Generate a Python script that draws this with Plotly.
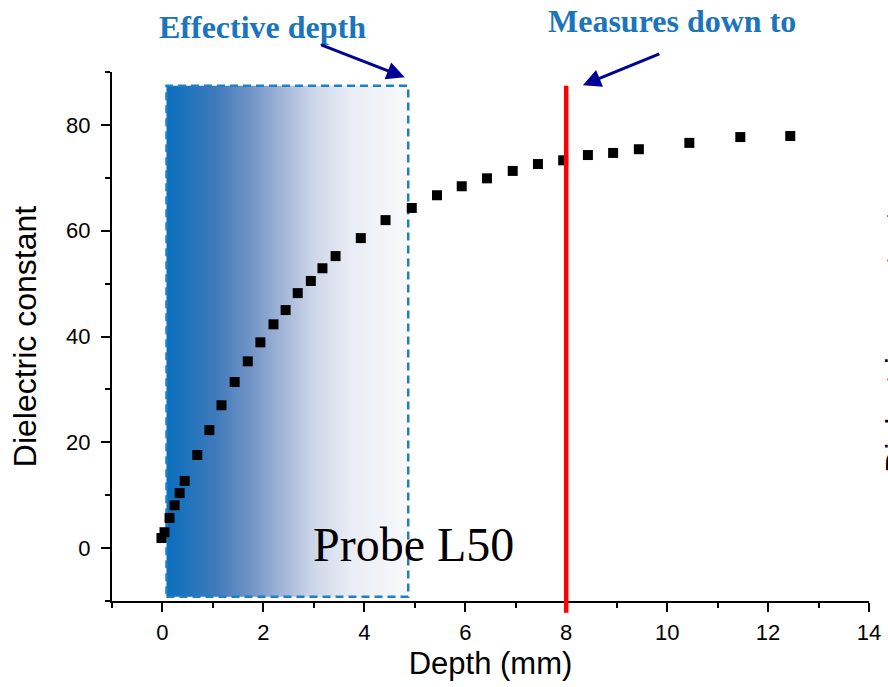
import plotly.graph_objects as go

# ---- data ----
depth_mm = [-0.02, 0.04, 0.14, 0.24, 0.34, 0.44, 0.69, 0.93, 1.17, 1.43, 1.69, 1.94,
            2.20, 2.44, 2.68, 2.94, 3.17, 3.43, 3.93, 4.42, 4.94, 5.44, 5.93, 6.43,
            6.94, 7.44, 7.94, 8.43, 8.93, 9.44, 10.44, 11.45, 12.44]
dielectric = [1.9, 3.0, 5.7, 8.1, 10.4, 12.7, 17.6, 22.3, 27.0, 31.4, 35.3, 38.9,
              42.3, 45.0, 48.2, 50.5, 52.9, 55.2, 58.6, 62.0, 64.3, 66.7, 68.4, 69.9,
              71.3, 72.6, 73.3, 74.3, 74.7, 75.4, 76.6, 77.7, 77.9]

effective_depth_x = [0.08, 4.87]      # shaded "effective depth" zone (mm)
effective_depth_y = [-9.2, 87.4]      # vertical extent of the zone
measures_down_to = 8.0                # red line (mm)

x_range = [-1, 14]
y_range = [-10, 90]
x_tickvals = [0, 2, 4, 6, 8, 10, 12, 14]
y_tickvals = [0, 20, 40, 60, 80]

SANS = "Liberation Sans, Arial, sans-serif"
SERIF = "Liberation Serif, Times New Roman, serif"

fig = go.Figure()

# gradient-filled effective depth box
x0, x1 = effective_depth_x
y0, y1 = effective_depth_y
fig.add_trace(go.Scatter(
    x=[x0, x1, x1, x0, x0], y=[y0, y0, y1, y1, y0],
    mode="lines", fill="toself",
    fillgradient=dict(type="horizontal",
                      colorscale=[[0.0, "#0a6ebd"], [0.2, "#3e7abb"], [0.34, "#6e92c5"],
                                  [0.48, "#a3b6d8"], [0.62, "#d0d9ea"], [0.76, "#e8ecf5"],
                                  [0.9, "#f2f4f9"], [1.0, "#f8f9fc"]]),
    line=dict(color="#1f7fc9", width=2.5, dash="8px,5px"),
    hoverinfo="skip", showlegend=False))

# data points
fig.add_trace(go.Scatter(
    x=depth_mm, y=dielectric, mode="markers",
    marker=dict(symbol="square", size=10, color="black", line=dict(width=0)),
    showlegend=False))

# red line
fig.add_shape(type="line", xref="x", yref="paper",
              x0=measures_down_to, x1=measures_down_to, y0=-0.022, y1=0.974,
              line=dict(color="#ff0000", width=4.5), layer="above")

annos = [
    dict(text="<b>Effective depth</b>", xref="x", yref="paper", x=1.98, y=1.085,
         xanchor="center", yanchor="middle",
         showarrow=False, font=dict(family=SERIF, size=32, color="#1a75bc")),
    dict(text="<b>Measures down to</b>", xref="x", yref="paper", x=10.1, y=1.0964,
         xanchor="center", yanchor="middle",
         showarrow=False, font=dict(family=SERIF, size=32, color="#1a75bc")),
    dict(text="", xref="x", yref="y", x=4.8, y=89, ax=-85, ay=-33,
         showarrow=True, arrowhead=2, arrowsize=1.2, arrowwidth=3, arrowcolor="#000096",
         standoff=0),
    dict(text="", xref="x", yref="y", x=8.33, y=87.5, ax=78, ay=-32,
         showarrow=True, arrowhead=2, arrowsize=1.2, arrowwidth=3, arrowcolor="#000096",
         standoff=0),
    dict(text="Probe L50", xref="x", yref="y", x=4.98, y=0.7,
         showarrow=False, font=dict(family=SERIF, size=48, color="black")),
    dict(text="Dielectric constant", xref="paper", yref="paper", x=1.0105, y=0.49,
         xanchor="left", yanchor="middle", textangle=-90, showarrow=False,
         font=dict(family=SANS, size=32, color="black")),
]
for a in annos:
    fig.add_annotation(**a)

axis_common = dict(showline=True, linecolor="black", linewidth=2, ticks="outside",
                   tickcolor="black", tickwidth=2, ticklen=9, showgrid=False,
                   zeroline=False, automargin=False,
                   tickfont=dict(family=SANS, size=22, color="black"))

fig.update_xaxes(range=x_range, tickvals=x_tickvals, ticklabelstandoff=2,
                 minor=dict(ticks="outside", tickvals=[-1, 1, 3, 5, 7, 9, 11, 13],
                            ticklen=5, tickwidth=2, tickcolor="black"),
                 title=dict(text="Depth (mm)", font=dict(family=SANS, size=31, color="black"),
                            standoff=8),
                 **axis_common)
fig.update_yaxes(range=y_range, tickvals=y_tickvals, ticklabelstandoff=6,
                 minor=dict(ticks="outside", tickvals=[-10, 10, 30, 50, 70, 90],
                            ticklen=5, tickwidth=2, tickcolor="black"),
                 title=dict(text="Dielectric constant", font=dict(family=SANS, size=32, color="black"),
                            standoff=20),
                 **axis_common)

fig.update_layout(width=888, height=687, plot_bgcolor="white", paper_bgcolor="white",
                  margin=dict(l=112, r=19, t=72, b=86, autoexpand=False), showlegend=False)

fig.write_html("out.html", config={"displayModeBar": False},
               post_script="document.body.style.margin='0';document.body.style.overflow='hidden';")
